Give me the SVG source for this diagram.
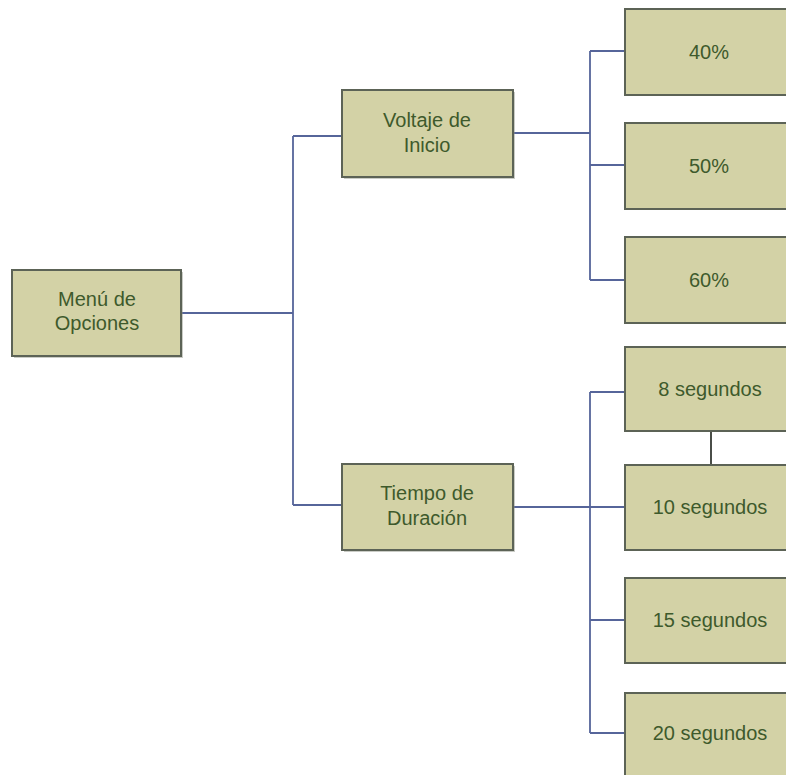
<svg xmlns="http://www.w3.org/2000/svg" width="786" height="775" viewBox="0 0 786 775">
  <style>
    .box { fill: #d3d2a6; stroke: #5c6356; stroke-width: 2; }
    .shadow { fill: #8a8f80; opacity: 0.45; }
    .lbl { font-family: "Liberation Sans", Arial, sans-serif; font-size: 20px; fill: #3e5a2c; text-anchor: middle; }
    .wire { fill: none; stroke: #56659a; stroke-width: 1.8; }
    .link { fill: none; stroke: #4a4e48; stroke-width: 2; }
  </style>
  <rect width="786" height="775" fill="#ffffff"/>

  <!-- connectors -->
  <g id="connectors">
    <path class="wire" d="M181 313 H293 M293 136 V505 M293 136 H342 M293 505 H342"/>
    <path class="wire" d="M513 133 H590 M590 51 V280 M590 51 H625 M590 165 H625 M590 280 H625"/>
    <path class="wire" d="M513 507 H625 M590 392 V733 M590 392 H625 M590 620 H625 M590 733 H625"/>
    <path class="link" d="M711 431 V465"/>
  </g>

  <g id="menu">
    <rect class="shadow" x="14" y="272" width="169" height="86"/>
    <rect class="box" x="12" y="270" width="169" height="86"/>
    <text class="lbl" x="97" y="306">Menú de</text>
    <text class="lbl" x="97" y="330">Opciones</text>
  </g>

  <g id="voltaje">
    <rect class="shadow" x="344" y="92" width="171" height="87"/>
    <rect class="box" x="342" y="90" width="171" height="87"/>
    <text class="lbl" x="427" y="127">Voltaje de</text>
    <text class="lbl" x="427" y="152">Inicio</text>
  </g>

  <g id="tiempo">
    <rect class="shadow" x="344" y="466" width="171" height="86"/>
    <rect class="box" x="342" y="464" width="171" height="86"/>
    <text class="lbl" x="427" y="500">Tiempo de</text>
    <text class="lbl" x="427" y="525">Duración</text>
  </g>

  <g id="v40">
    <rect class="box" x="625" y="9" width="175" height="86"/>
    <text class="lbl" x="709" y="59">40%</text>
  </g>
  <g id="v50">
    <rect class="box" x="625" y="123" width="175" height="86"/>
    <text class="lbl" x="709" y="173">50%</text>
  </g>
  <g id="v60">
    <rect class="box" x="625" y="237" width="175" height="86"/>
    <text class="lbl" x="709" y="287">60%</text>
  </g>

  <g id="t8">
    <rect class="box" x="625" y="347" width="175" height="84"/>
    <text class="lbl" x="710" y="396">8 segundos</text>
  </g>
  <g id="t10">
    <rect class="box" x="625" y="465" width="175" height="85"/>
    <text class="lbl" x="710" y="514">10 segundos</text>
  </g>
  <g id="t15">
    <rect class="box" x="625" y="578" width="175" height="85"/>
    <text class="lbl" x="710" y="627">15 segundos</text>
  </g>
  <g id="t20">
    <rect class="box" x="625" y="693" width="175" height="90"/>
    <text class="lbl" x="710" y="740">20 segundos</text>
  </g>
</svg>
